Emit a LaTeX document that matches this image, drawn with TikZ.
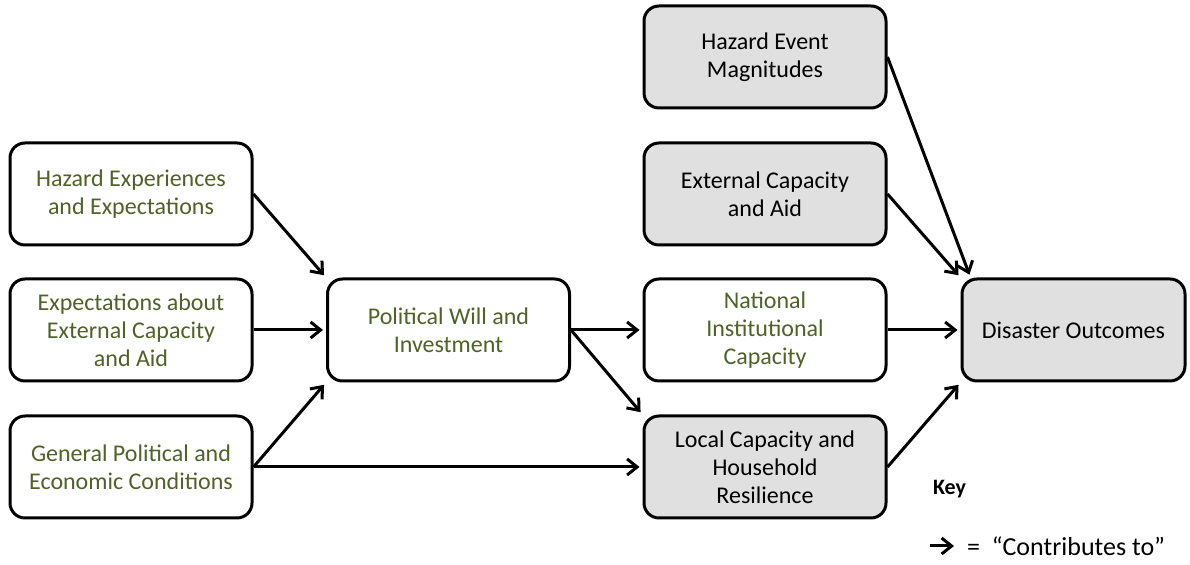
\documentclass[tikz,border=0pt]{standalone}
\usepackage{fontspec}
\setmainfont{Carlito}
\usetikzlibrary{arrows.meta}
\tikzset{%
 >={Straight Barb[length=5pt,width=8pt]}
}
\usetikzlibrary{positioning}
\definecolor{leafgreen}{HTML}{4F6228}
\definecolor{boxgray}{HTML}{E0E0E0}
\tikzset{%
 box/.style={draw, line width=1.5pt, rounded corners=7.5pt, minimum width=121pt,
  minimum height=51pt, align=center, font=\fontsize{12}{14}\selectfont},
 openbox/.style={box, fill=white, text=leafgreen},
 graybox/.style={box, fill=boxgray, text=black},
 link/.style={->, line width=1.5pt, shorten >=1.5pt}
}

\begin{document}
\begin{tikzpicture}[x=.5pt, y=-.5pt]
 \useasboundingbox (0,0) rectangle (1190,565);
 % drivers
 \node [openbox] (hazexp) at (131,194) {Hazard Experiences\\and Expectations};
 \node [openbox] (extexp) at (131,330) {Expectations about\\External Capacity\\and Aid};
 \node [openbox] (genpol) at (131,467) {General Political and\\Economic Conditions};
 \node [openbox] (polwill) at (448.5,330) {Political Will and\\Investment};
 % capacities
 \node [graybox] (hazmag) at (765,57) {Hazard Event\\Magnitudes};
 \node [graybox] (extcap) at (765,194) {External Capacity\\and Aid};
 \node [openbox] (natcap) at (765,330) {National\\Institutional\\Capacity};
 \node [graybox] (loccap) at (765,467) {Local Capacity and\\Household\\Resilience};
 \node [graybox, minimum width=111.5pt] (outcome) at (1073.5,330) {Disaster Outcomes};

 \draw [link] (hazexp.east) -- (polwill.north west);
 \draw [link] (extexp.east) -- (polwill.west);
 \draw [link] (genpol.east) -- (polwill.south west);
 \draw [link] (genpol.east) -- (loccap.west);
 \draw [link] (polwill.east) -- (natcap.west);
 \draw [link] (polwill.east) -- (loccap.north west);
 \draw [link] (natcap.east) -- (outcome.west);
 \draw [link] (loccap.east) -- (outcome.south west);
 \draw [link] (extcap.east) -- (outcome.north west);
 \draw [link] (hazmag.east) -- ([xshift=5pt]outcome.north west);

 % key
 \node [anchor=west, font=\fontsize{11}{13}\selectfont\bfseries] (keyhead) at (926,489) {Key};
 \coordinate (keystart) at (930,546);
 \node [anchor=west, font=\fontsize{13}{15}\selectfont] (keytext) at (960,546) {=\ \ “Contributes to”};
 \draw [link, shorten >=3pt] (keystart) -- (keytext.west);
\end{tikzpicture}
\end{document}
